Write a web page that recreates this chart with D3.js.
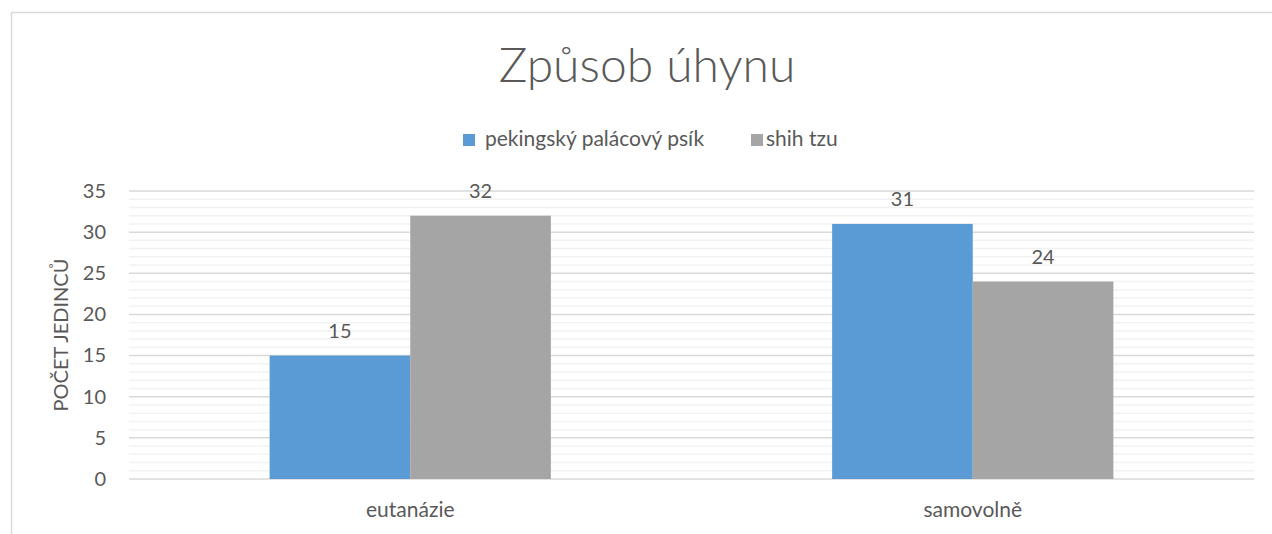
<!DOCTYPE html>
<html>
<head>
<meta charset="utf-8">
<script src="https://cdn.jsdelivr.net/npm/d3@7"></script>
<style>
  body { margin: 0; background: #fff; }
  text { font-family: Lato, "Open Sans", sans-serif; fill: #595959; }
</style>
</head>
<body>
<div id="chart"></div>
<script>
const categories = ["eutanázie", "samovolně"];
const seriesNames = ["pekingský palácový psík", "shih tzu"];
const pekingValues = [15, 31];
const shihTzuValues = [32, 24];
const yTicks = [0, 5, 10, 15, 20, 25, 30, 35];
const colors = ["#5b9bd5", "#a5a5a5"];

const width = 1272, height = 534;
const margin = {top: 191, right: 18, bottom: 55, left: 129};
const innerW = width - margin.left - margin.right,
      innerH = height - margin.top - margin.bottom;

const svg = d3.select("#chart")
    .append("svg")
    .attr("width", width)
    .attr("height", height);

// chart area border
svg.append("path")
    .attr("d", `M11.5,${height} V12.5 H${width}`)
    .attr("fill", "none")
    .attr("stroke", "#d9d9d9")
    .attr("stroke-width", 1.5);

// title
svg.append("text")
    .attr("x", 647)
    .attr("y", 82)
    .attr("text-anchor", "middle")
    .style("font-size", "48px")
    .style("font-weight", 300)
    .text("Způsob úhynu");

const g = svg.append("g")
    .attr("transform", `translate(${margin.left},${margin.top})`);

const y = d3.scaleLinear().domain([0, 35]).range([innerH, 0]);

const x0 = d3.scaleBand().domain(categories).range([0, innerW]).paddingInner(0.5).paddingOuter(0.25);
const x1 = d3.scaleBand().domain(seriesNames).range([0, x0.bandwidth()]);

// minor gridlines
g.selectAll(".minor")
    .data(d3.range(0, 36).filter(v => v % 5 !== 0))
    .enter()
    .append("line")
    .attr("x1", 0).attr("x2", innerW)
    .attr("y1", d => y(d)).attr("y2", d => y(d))
    .attr("stroke", "#f2f2f2")
    .attr("stroke-width", 1.5);

// major gridlines
g.selectAll(".major")
    .data(yTicks)
    .enter()
    .append("line")
    .attr("x1", 0).attr("x2", innerW)
    .attr("y1", d => y(d)).attr("y2", d => y(d))
    .attr("stroke", "#d9d9d9")
    .attr("stroke-width", 1.5);

// y axis labels
const yAxis = g.append("g")
    .call(d3.axisLeft(y).tickValues(yTicks).tickSize(0).tickPadding(23));
yAxis.select(".domain").remove();
yAxis.selectAll("text")
    .style("font-size", "20px")
    .style("fill", "#595959")
    .style("font-family", "Lato, 'Open Sans', sans-serif");

svg.append("text")
    .attr("transform", "rotate(-90)")
    .attr("x", -(margin.top + innerH / 2))
    .attr("y", 68)
    .attr("text-anchor", "middle")
    .style("font-size", "20px")
    .text("POČET JEDINCŮ");

// x axis labels
const xAxis = g.append("g")
    .attr("transform", `translate(0,${innerH})`)
    .call(d3.axisBottom(x0).tickSize(0).tickPadding(23));
xAxis.select(".domain").remove();
xAxis.selectAll("text")
    .style("font-size", "21px")
    .style("fill", "#595959")
    .style("font-family", "Lato, 'Open Sans', sans-serif");

// bars
const rows = categories.map((c, i) => ({
    category: c,
    values: [pekingValues[i], shihTzuValues[i]]
}));

const groups = g.selectAll(".cat")
    .data(rows)
    .enter()
    .append("g")
    .attr("transform", d => `translate(${x0(d.category)},0)`);

groups.selectAll("rect")
    .data(d => d.values.map((v, i) => ({name: seriesNames[i], value: v, i})))
    .enter()
    .append("rect")
    .attr("x", d => x1(d.name))
    .attr("y", d => y(d.value))
    .attr("width", x1.bandwidth())
    .attr("height", d => innerH - y(d.value))
    .attr("fill", d => colors[d.i]);

groups.selectAll(".lbl")
    .data(d => d.values.map((v, i) => ({name: seriesNames[i], value: v})))
    .enter()
    .append("text")
    .attr("x", d => x1(d.name) + x1.bandwidth() / 2)
    .attr("y", d => y(d.value) - 18)
    .attr("text-anchor", "middle")
    .style("font-size", "20px")
    .text(d => d.value);

// legend
const legendX = [463, 751];
const legend = svg.selectAll(".legend")
    .data(seriesNames)
    .enter()
    .append("g")
    .attr("transform", (d, i) => `translate(${legendX[i]},134)`);
legend.append("rect")
    .attr("width", 12).attr("height", 12)
    .attr("fill", (d, i) => colors[i]);
legend.append("text")
    .attr("x", (d, i) => i === 0 ? 22 : 15)
    .attr("y", 12)
    .style("font-size", "21px")
    .text(d => d);
</script>
</body>
</html>
